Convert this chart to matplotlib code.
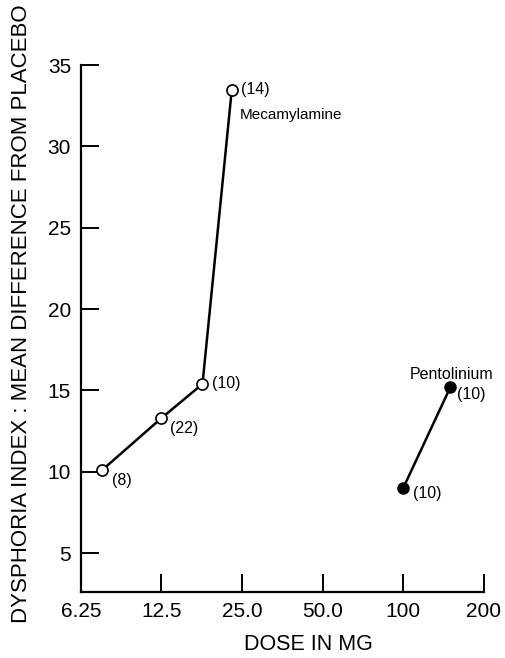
import matplotlib.pyplot as plt
from matplotlib.ticker import FixedLocator, NullLocator

# dose (mg) and mean dysphoria difference from placebo, with n per point
mec_dose = [7.5, 12.5, 17.8, 22.9]
mec_score = [10.1, 13.3, 15.4, 33.5]
mec_n = ['(8)', '(22)', '(10)', '(14)']

pen_dose = [100, 150]
pen_score = [9.0, 15.2]
pen_n = ['(10)', '(10)']

xticks = [6.25, 12.5, 25, 50, 100, 200]
xticklabels = ['6.25', '12.5', '25.0', '50.0', '100', '200']
yticks = [5, 10, 15, 20, 25, 30, 35]

plt.rcParams['font.family'] = ['Liberation Sans', 'DejaVu Sans']

fig = plt.figure(figsize=(5.05, 6.58), dpi=100)
ax = fig.add_axes([0.160, 0.100, 0.798, 0.801])

ax.plot(mec_dose, mec_score, color='black', lw=1.8, marker='o', ms=8,
        mfc='white', mec='black', mew=1.2, zorder=3)
ax.plot(pen_dose, pen_score, color='black', lw=1.8, marker='o', ms=8,
        mfc='black', mec='black', zorder=3)

ax.set_xscale('log', base=2)
ax.set_xlim(6.25, 200)
ax.set_ylim(2.6, 35)
ax.xaxis.set_major_locator(FixedLocator(xticks))
ax.xaxis.set_minor_locator(NullLocator())
ax.set_xticklabels(xticklabels)
ax.set_yticks(yticks)

for s in ['top', 'right']:
    ax.spines[s].set_visible(False)
for s in ['left', 'bottom']:
    ax.spines[s].set_linewidth(1.6)
ax.tick_params(axis='both', direction='in', length=13, width=1.4,
               labelsize=15, colors='black')
ax.tick_params(axis='x', pad=7)
ax.tick_params(axis='y', pad=7)

fig.text(308 / 505, 13.5 / 658, 'DOSE IN MG', fontsize=15.5,
         ha='center', va='center')
fig.text(21.5 / 505, 1 - 313.5 / 658,
         'DYSPHORIA INDEX : MEAN DIFFERENCE FROM PLACEBO', fontsize=16,
         rotation=90, ha='center', va='center')

# n labels next to each point (offsets in pixels)
mec_off = [(10, -10), (9, -10), (10, 0), (9, 0)]
for d, v, t, o in zip(mec_dose, mec_score, mec_n, mec_off):
    ax.annotate(t, (d, v), xytext=o, textcoords='offset pixels',
                ha='left', va='center', fontsize=11.5)
pen_off = [(10, -5), (7, -7)]
for d, v, t, o in zip(pen_dose, pen_score, pen_n, pen_off):
    ax.annotate(t, (d, v), xytext=o, textcoords='offset pixels',
                ha='left', va='center', fontsize=11.5)

ax.annotate('Mecamylamine', (mec_dose[-1], mec_score[-1]), xytext=(8, -25),
            textcoords='offset pixels', ha='left', va='center', fontsize=11)
ax.annotate('Pentolinium', (pen_dose[-1], pen_score[-1]), xytext=(-41, 13),
            textcoords='offset pixels', ha='left', va='center', fontsize=11.5)

fig.savefig('out.png', dpi=100, facecolor='white')
